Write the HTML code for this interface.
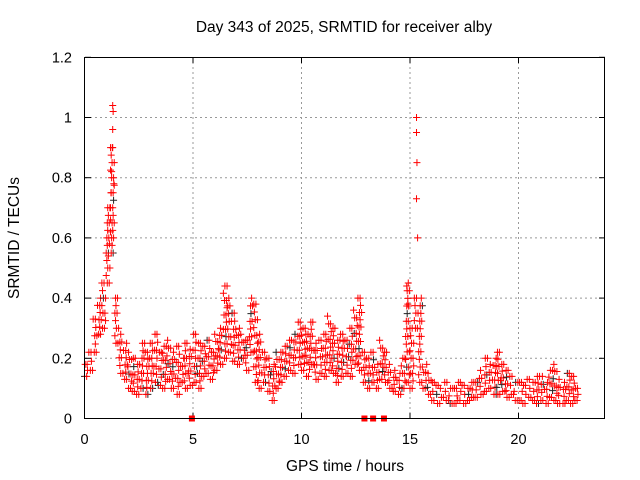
<!DOCTYPE html>
<html><head><meta charset="utf-8"><style>
body{margin:0;background:#fff}
svg{display:block;font-family:"Liberation Sans",sans-serif}
</style></head><body>
<svg id="chart" width="640" height="480">
<text x="344" y="32" text-anchor="middle" font-size="15.5">Day 343 of 2025, SRMTID for receiver alby</text>
<text x="345" y="471" text-anchor="middle" font-size="15.5">GPS time / hours</text>
<text transform="translate(19,238) rotate(-90)" text-anchor="middle" font-size="15.5">SRMTID / TECUs</text>
<g id="grid"></g><g id="marks"></g>
<rect x="84.5" y="57.5" width="520" height="361" fill="none" stroke="#000"/>
</svg>
<script>
const xTicks=[0,5,10,15,20];
const yTicks=[0,0.2,0.4,0.6,0.8,1,1.2];
const yTickLabels=["0","0.2","0.4","0.6","0.8","1","1.2"];
const stepHours=0.2;
const loVals=[0.14,0.16,0.22,0.28,0.30, 0.45,0.55,0.25,0.15,0.13, 0.10,0.09,0.08,0.10,0.08, 0.10,0.12,0.11,0.10,0.13, 0.10,0.08,0.12,0.10,0.11, 0.12,0.10,0.14,0.15,0.13, 0.16,0.18,0.20,0.22,0.19, 0.18,0.20,0.16,0.22,0.12, 0.10,0.12,0.09,0.06,0.10, 0.12,0.14,0.16,0.15,0.18, 0.16,0.14,0.18,0.13,0.15, 0.14,0.16,0.15,0.12,0.14, 0.15,0.14,0.18,0.16,0.12, 0.10,0.12,0.10,0.13,0.12, 0.10,0.09,0.08,0.10,0.12, 0.10,0.30,0.12,0.10,0.08, 0.06,0.05,0.07,0.06,0.05, 0.05,0.06,0.05,0.06,0.07, 0.07,0.08,0.09,0.10,0.08, 0.08,0.09,0.07,0.08,0.06, 0.06,0.05,0.07,0.06,0.05, 0.06,0.05,0.07,0.06,0.05, 0.05,0.06,0.05,0.06];
const hiVals=[0.18,0.22,0.33,0.40,0.45, 0.70,0.90,0.40,0.28,0.25, 0.22,0.20,0.18,0.25,0.22, 0.25,0.28,0.22,0.24,0.26, 0.22,0.24,0.20,0.25,0.23, 0.28,0.25,0.24,0.26,0.22, 0.28,0.30,0.44,0.40,0.35, 0.30,0.28,0.26,0.40,0.38, 0.28,0.22,0.20,0.18,0.22, 0.22,0.24,0.26,0.28,0.32, 0.30,0.28,0.32,0.25,0.26, 0.28,0.34,0.30,0.26,0.28, 0.26,0.30,0.36,0.40,0.22, 0.20,0.22,0.18,0.26,0.22, 0.18,0.16,0.15,0.20,0.45, 0.30,0.40,0.40,0.18,0.15, 0.12,0.11,0.10,0.12,0.10, 0.10,0.12,0.11,0.10,0.12, 0.12,0.16,0.20,0.18,0.20, 0.22,0.18,0.16,0.14,0.12, 0.12,0.11,0.13,0.12,0.14, 0.14,0.12,0.16,0.18,0.13, 0.12,0.15,0.14,0.10];
const spikeTimes=[1.15,1.2,1.22,1.25,1.28,1.3,1.3,1.32,1.35,1.2,1.1,15.3,15.3,15.32,15.35,15.3,14.85,14.9];
const spikeVals=[0.58,0.66,0.75,0.82,0.9,0.96,1.04,1.02,0.78,0.62,0.54,1.0,0.95,0.85,0.6,0.73,0.44,0.38];
const zeroTimes=[4.95,12.9,13.3,13.8];
const X=h=>84.5+h*21.7, Y=v=>418.5-v*301;
const NS="http://www.w3.org/2000/svg";
const g=document.getElementById('grid'), m=document.getElementById('marks');
function mk(tag,a,p){const e=document.createElementNS(NS,tag);for(const k in a)e.setAttribute(k,a[k]);p.appendChild(e);return e;}
xTicks.forEach(t=>{const x=X(t);
 if(t>0){const l=mk('line',{x1:x,x2:x,y1:57,y2:419,stroke:'#999','stroke-dasharray':'2,3'},g);
 
 }
 mk('line',{x1:x,x2:x,y1:419,y2:413,stroke:'#000'},g);mk('line',{x1:x,x2:x,y1:57,y2:63,stroke:'#000'},g);
 const tx=mk('text',{x:x,y:444,'text-anchor':'middle','font-size':14.5},g);tx.textContent=t;
 
 });
yTicks.forEach((v,i)=>{const y=Y(v);
 if(v>0&&v<1.2){const l=mk('line',{x1:85,x2:605,y1:y,y2:y,stroke:'#999','stroke-dasharray':'2,3'},g);
 
 }
 mk('line',{x1:85,x2:91,y1:y,y2:y,stroke:'#000'},g);mk('line',{x1:599,x2:605,y1:y,y2:y,stroke:'#000'},g);
 const tx=mk('text',{x:72,y:y+5,'text-anchor':'end','font-size':14.5},g);tx.textContent=yTickLabels[i];
 
 });
function plus(t,v,c){const x=X(t),y=Y(v);
 const p=mk('path',{d:`M${x-3.5},${y}h7M${x},${y-3.5}v7`,stroke:c,'stroke-width':1,fill:'none'},m);
 
 }
const offs=[0,0.07,0.14,0.03,0.1,0.17,0.05,0.12];
let k=0;
loVals.forEach((lo,i)=>{const t=i*stepHours,hi=hiVals[i];
 const n=Math.max(2,Math.round((hi-lo)/0.025)+1);
 for(let j=0;j<n;j++){const v=lo+(hi-lo)*j/(n-1);
  plus(t+offs[k%8],v,(k%11===0)?'#222':'#f00');k++;
  if(j%2===0){plus(t+offs[(k+3)%8],v,'#f00');k++;}}
});
spikeTimes.forEach((t,i)=>plus(t,spikeVals[i],'#f00'));
zeroTimes.forEach(t=>{const r=mk('rect',{x:X(t)-3,y:Y(0)-3,width:6,height:6,fill:'#f00'},m);
 
 });
</script>
</body></html>
